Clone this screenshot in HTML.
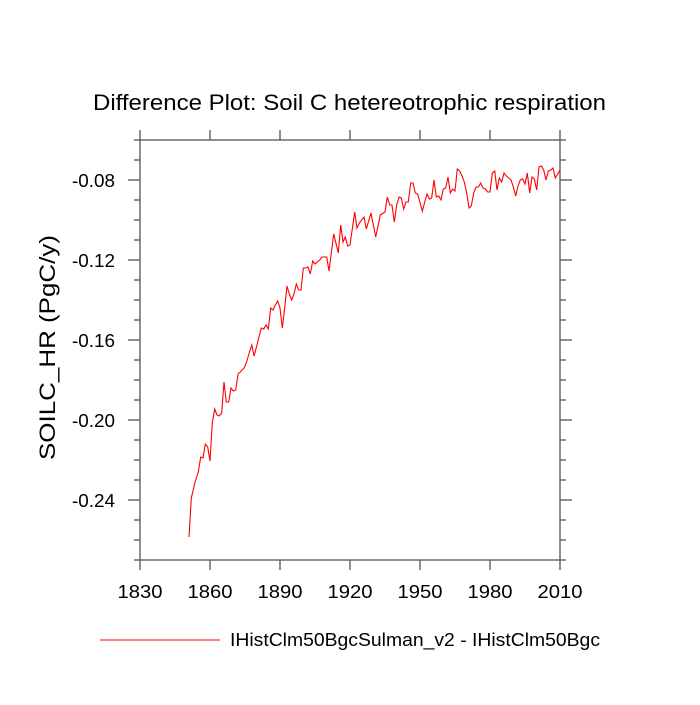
<!DOCTYPE html>
<html><head><meta charset="utf-8"><style>body{margin:0;background:#fff}svg text{font-family:"Liberation Sans",sans-serif}</style></head>
<body>
<svg id="chart" width="700" height="700" xmlns="http://www.w3.org/2000/svg">
<text x="93" y="110" font-size="22" textLength="513" lengthAdjust="spacingAndGlyphs">Difference Plot: Soil C hetereotrophic respiration</text>
<text transform="translate(55,460) rotate(-90)" font-size="22" textLength="225" lengthAdjust="spacingAndGlyphs">SOILC_HR  (PgC/y)</text>
<g id="axes"></g>
<polyline id="series" fill="none" stroke="#ff0000" stroke-width="1.1"/>
<line x1="100" y1="640" x2="220" y2="640" stroke="#ff0000" stroke-width="1.1"/>
<text x="230" y="646" font-size="18" textLength="370" lengthAdjust="spacingAndGlyphs">IHistClm50BgcSulman_v2 - IHistClm50Bgc</text>
</svg>
<script>
const years=[1851,1852,1853.6,1855,1856,1857,1858,1859,1860,1861,1862,1863,1864,1865,1866,1867,1868,1869,1870,1871,1872,1873,1874.6,1875.7,1876.8,1877.9,1878.9,1880,1881,1882,1883,1884,1885,1886,1887,1888,1889,1890,1891,1892,1893,1894,1895,1896,1897,1898,1899,1900,1901,1902,1903,1904,1905,1907,1908,1910,1911,1913,1915,1916,1917,1918,1919,1920,1922,1923,1924,1926,1927,1929,1931,1933,1935,1936,1937,1938,1939,1940,1941,1942,1943,1944,1945,1946,1947,1948,1949,1951,1953,1954,1955,1956,1957,1958,1959,1960,1961,1962,1963,1964,1965,1966,1967,1968,1969,1970,1971,1972,1973,1974,1975,1976,1977,1978,1979,1980,1981,1982,1983,1984,1985,1986,1987,1988,1989,1990,1991,1992,1993,1994,1995,1996,1997,1998,1999,2000,2001,2002,2003,2004,2005,2006,2007,2008,2009,2010];
const values=[-0.2585,-0.239,-0.231,-0.226,-0.2185,-0.219,-0.212,-0.2135,-0.2205,-0.2015,-0.1945,-0.1975,-0.198,-0.1965,-0.181,-0.191,-0.191,-0.184,-0.1855,-0.185,-0.177,-0.176,-0.174,-0.171,-0.1665,-0.1625,-0.168,-0.163,-0.1585,-0.154,-0.1545,-0.1525,-0.1545,-0.144,-0.145,-0.1425,-0.1405,-0.144,-0.154,-0.144,-0.133,-0.137,-0.140,-0.137,-0.132,-0.135,-0.135,-0.124,-0.124,-0.1235,-0.127,-0.1205,-0.122,-0.120,-0.1185,-0.1185,-0.1255,-0.107,-0.1165,-0.1025,-0.111,-0.1085,-0.113,-0.1125,-0.096,-0.104,-0.1015,-0.0985,-0.1045,-0.0965,-0.1085,-0.0975,-0.096,-0.0885,-0.0925,-0.0925,-0.101,-0.0925,-0.0885,-0.089,-0.0945,-0.091,-0.091,-0.0815,-0.0815,-0.0865,-0.087,-0.0955,-0.087,-0.0895,-0.089,-0.080,-0.0885,-0.088,-0.090,-0.0845,-0.084,-0.0785,-0.0865,-0.0845,-0.0855,-0.0745,-0.0755,-0.078,-0.081,-0.0865,-0.094,-0.093,-0.0865,-0.0835,-0.0835,-0.0815,-0.084,-0.0845,-0.086,-0.086,-0.0765,-0.0755,-0.085,-0.079,-0.081,-0.0765,-0.078,-0.079,-0.080,-0.0835,-0.088,-0.083,-0.080,-0.0795,-0.082,-0.0765,-0.0865,-0.0785,-0.0795,-0.085,-0.0735,-0.073,-0.075,-0.080,-0.0755,-0.075,-0.074,-0.079,-0.077,-0.075];
const xTicks=[1830,1860,1890,1920,1950,1980,2010];
const yTicks=[-0.08,-0.12,-0.16,-0.20,-0.24];
const yTickLabels=["-0.08","-0.12","-0.16","-0.20","-0.24"];
const X0=140,X1=560,Y0=140,Y1=560,XMIN=1830,XMAX=2010,YMIN=-0.27,YMAX=-0.06;
const sx=v=>X0+(v-XMIN)/(XMAX-XMIN)*(X1-X0);
const sy=v=>Y1-(v-YMIN)/(YMAX-YMIN)*(Y1-Y0);
const NS="http://www.w3.org/2000/svg",ax=document.getElementById('axes');
function mk(t,a){const e=document.createElementNS(NS,t);for(const k in a)e.setAttribute(k,a[k]);ax.appendChild(e);return e;}
const c="#555";
const fr=mk('rect',{x:X0,y:Y0,width:X1-X0,height:Y1-Y0,fill:'none',stroke:c,'stroke-width':1.3});


xTicks.forEach(t=>{const x=sx(t);
 const a=mk('line',{x1:x,y1:Y1,x2:x,y2:Y1+10,stroke:c,'stroke-width':1.3});
 
 
 const b=mk('line',{x1:x,y1:Y0,x2:x,y2:Y0-10,stroke:c,'stroke-width':1.3});
 
 
 const l=mk('text',{x:x,y:Y1+38,'font-size':18,'text-anchor':'middle',textLength:45,lengthAdjust:'spacingAndGlyphs'});l.textContent=t;
 
 
});
for(let v=-0.27;v<=-0.0599;v+=0.01){const y=sy(v);const major=yTicks.some(t=>Math.abs(t-v)<1e-6);const len=major?12:6;
 const a=mk('line',{x1:X0-len,y1:y,x2:X0,y2:y,stroke:c,'stroke-width':1.3});
 
 
 const b=mk('line',{x1:X1,y1:y,x2:X1+len,y2:y,stroke:c,'stroke-width':1.3});
 
 
}
yTicks.forEach((t,i)=>{const l=mk('text',{x:X0-25,y:sy(t)+7,'font-size':18,'text-anchor':'end',textLength:43,lengthAdjust:'spacingAndGlyphs'});l.textContent=yTickLabels[i];
 
 
});
document.getElementById('series').setAttribute('points',years.map((yr,i)=>sx(yr).toFixed(1)+','+sy(values[i]).toFixed(1)).join(' '));
</script>
</body></html>
